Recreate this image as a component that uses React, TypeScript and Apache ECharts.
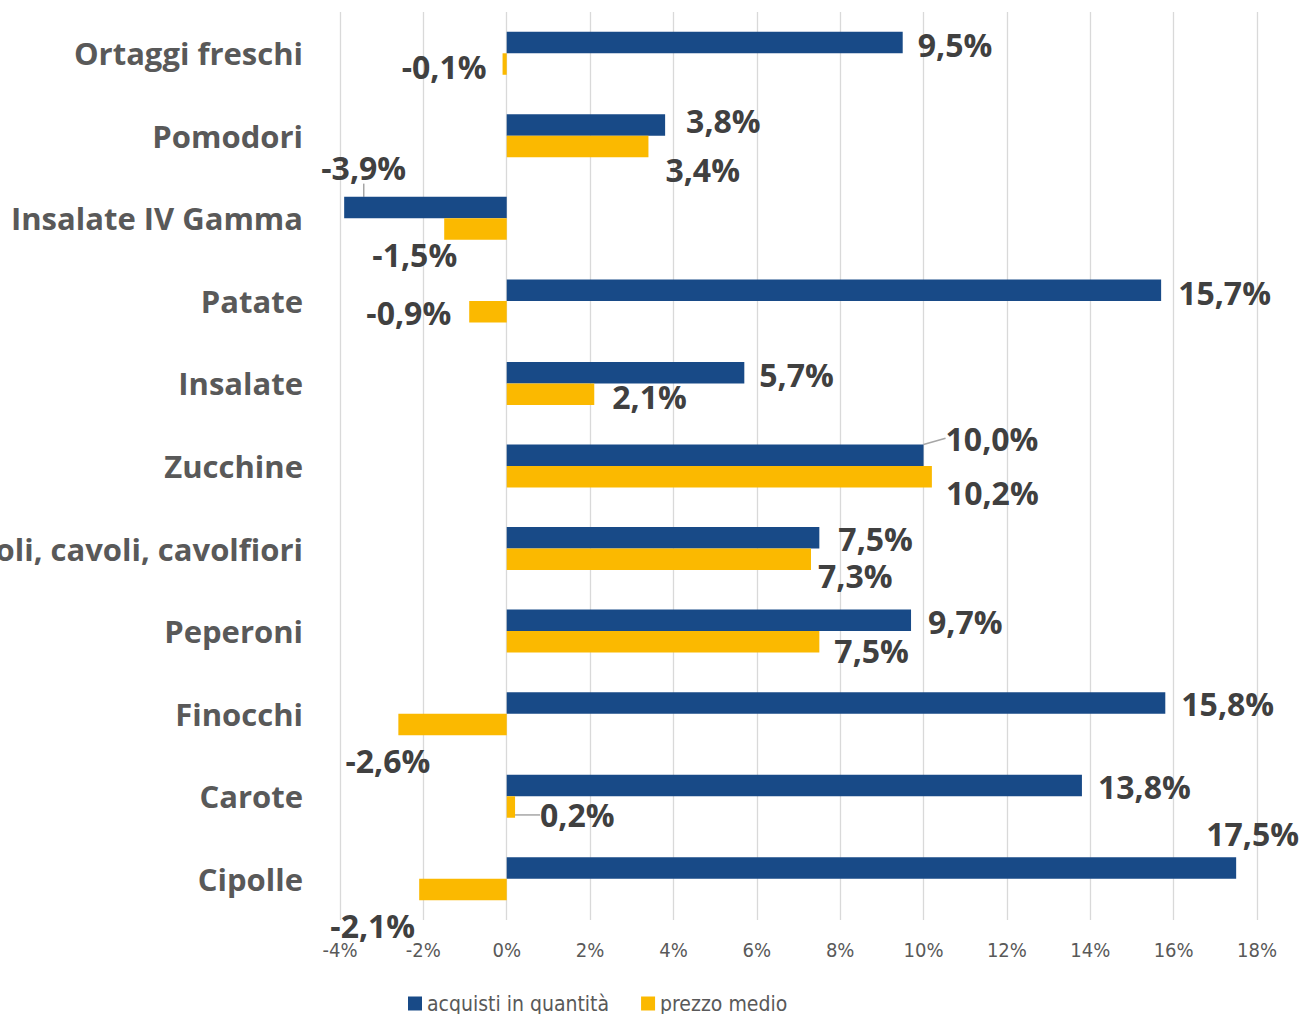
import React, { useEffect, useRef } from "react";
import * as echarts from "echarts";

const categories = [
  "Ortaggi freschi",
  "Pomodori",
  "Insalate IV Gamma",
  "Patate",
  "Insalate",
  "Zucchine",
  "Broccoli, cavoli, cavolfiori",
  "Peperoni",
  "Finocchi",
  "Carote",
  "Cipolle",
];
const quantita = [9.5, 3.8, -3.9, 15.7, 5.7, 10.0, 7.5, 9.7, 15.8, 13.8, 17.5];
const prezzo = [-0.1, 3.4, -1.5, -0.9, 2.1, 10.2, 7.3, 7.5, -2.6, 0.2, -2.1];
const seriesNames = ["acquisti in quantità", "prezzo medio"];
const xTicks = { min: -4, max: 18, interval: 2 };

// label placement (offsets from bar end), kept apart from the data
const quantitaLabelShift: [number, number][] = [
  [15, 2], [21, -5], [62, -40], [17, 2], [15, 2], [22, -17], [19, 1], [17, 1], [16, 1], [16, 1], [-30, -34],
];
const prezzoLabelShift: [number, number][] = [
  [-16, 2], [17, 23], [13, 25], [-18, 1], [18, 2], [14, 16], [7, 16], [15, 9], [32, 36], [25, 8], [-4, 36],
];
const quantitaLeader = [false, false, true, false, false, true, false, false, false, false, false];
const prezzoLeader = [false, false, false, false, false, false, false, false, false, true, false];

const BLUE = "#184A87";
const YELLOW = "#FBB900";
const NARROW = "Liberation Sans Narrow, DejaVu Sans Condensed, Roboto";

const fmt = (v: number) => v.toFixed(1).replace(".", ",") + "%";

function buildData(values: number[], leaders: boolean[]) {
  return values.map((v, i) => ({
    value: v,
    label: { position: v >= 0 ? "right" : "left" },
    labelLine: { show: leaders[i] },
  }));
}

export default function App() {
  const ref = useRef<HTMLDivElement>(null);
  useEffect(() => {
    if (!ref.current) return;
    const chart = echarts.init(ref.current, undefined, { renderer: "svg" });
    const labelStyle = {
      show: true,
      distance: 0,
      formatter: (p: any) => fmt(p.value),
      fontFamily: "Open Sans",
      fontWeight: "bold",
      fontSize: 32,
      color: "#404040",
    };
    const mkLayout = (shifts: [number, number][]) => (params: any) => {
      const s = shifts[params.dataIndex] || [0, 0];
      return { dx: s[0], dy: s[1] };
    };
    chart.setOption({
      animation: false,
      grid: {
        left: 340,
        right: 44,
        top: 12,
        height: 908,
        containLabel: false,
        outerBoundsMode: "none",
      },
      legend: {
        left: 408,
        top: 993,
        itemWidth: 14,
        itemHeight: 14,
        itemGap: 32,
        padding: 0,
        icon: "rect",
        textStyle: { fontFamily: NARROW, fontSize: 21, color: "#595959" },
        data: seriesNames,
      },
      xAxis: {
        type: "value",
        min: xTicks.min,
        max: xTicks.max,
        interval: xTicks.interval,
        axisLine: { show: false },
        axisTick: { show: false },
        splitLine: { show: true, lineStyle: { color: "#D9D9D9", width: 1.3 } },
        axisLabel: {
          formatter: (v: number) => v + "%",
          fontFamily: NARROW,
          fontSize: 20,
          color: "#595959",
          margin: 20,
        },
      },
      yAxis: {
        type: "category",
        inverse: true,
        data: categories,
        axisLine: { show: false },
        axisTick: { show: false },
        axisLabel: {
          fontFamily: "Open Sans",
          fontWeight: "bold",
          fontSize: 31,
          color: "#595959",
          margin: 37,
        },
      },
      series: [
        {
          name: seriesNames[0],
          type: "bar",
          barWidth: 21.5,
          barGap: "0%",
          itemStyle: { color: BLUE },
          data: buildData(quantita, quantitaLeader),
          label: labelStyle,
          labelLayout: mkLayout(quantitaLabelShift),
          labelLine: { lineStyle: { color: "#A6A6A6", width: 1.5 } },
        },
        {
          name: seriesNames[1],
          type: "bar",
          barWidth: 21.5,
          barGap: "0%",
          itemStyle: { color: YELLOW },
          data: buildData(prezzo, prezzoLeader),
          label: labelStyle,
          labelLayout: mkLayout(prezzoLabelShift),
          labelLine: { lineStyle: { color: "#A6A6A6", width: 1.5 } },
        },
      ],
    });
    return () => chart.dispose();
  }, []);
  return (
    <div
      ref={ref}
      style={{ position: "absolute", left: 0, top: 0, width: 1301, height: 1014, background: "#fff" }}
    />
  );
}
